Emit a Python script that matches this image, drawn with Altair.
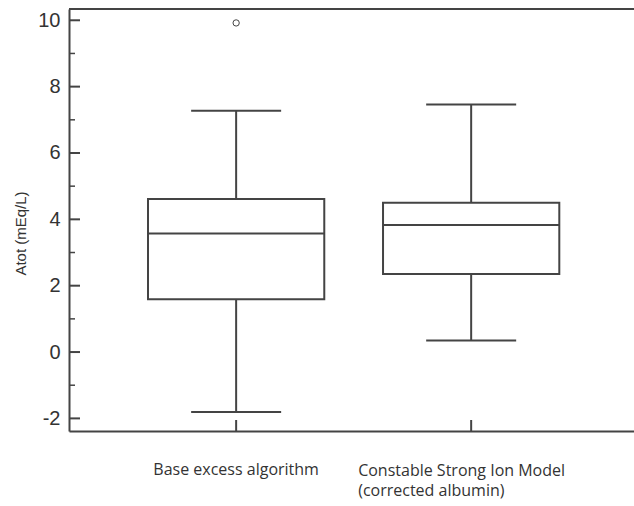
import altair as alt
import pandas as pd

# Summary statistics for each method (Atot, mEq/L)
GROUPS = ["Base excess algorithm", "Constable Strong Ion Model"]
WHISKER_LOW = [-1.81, 0.35]
Q1 = [1.59, 2.35]
MEDIAN = [3.57, 3.83]
Q3 = [4.61, 4.50]
WHISKER_HIGH = [7.27, 7.46]

OUTLIER_GROUP = ["Base excess algorithm"]
OUTLIER_VALUE = [9.92]

# Category captions shown under the x axis
CAPTION_1 = ["Base excess algorithm"]
CAPTION_2 = ["Constable Strong Ion Model\n(corrected albumin)"]

# Y-axis tick values
MAJOR_TICKS = [-2, 0, 2, 4, 6, 8, 10]
MINOR_TICKS = [-1, 1, 3, 5, 7, 9]

W, H = 565, 422
INK = "#444444"
TEXT = "#333333"

stats = pd.DataFrame({
    "group": GROUPS, "lo": WHISKER_LOW, "q1": Q1, "med": MEDIAN,
    "q3": Q3, "hi": WHISKER_HIGH,
})
outliers = pd.DataFrame({"group": OUTLIER_GROUP, "value": OUTLIER_VALUE})
major = pd.DataFrame({"v": MAJOR_TICKS})
minor = pd.DataFrame({"v": MINOR_TICKS})
cap1 = pd.DataFrame({"group": [GROUPS[0]], "label": CAPTION_1})
cap2 = pd.DataFrame({"group": [GROUPS[1]], "label": CAPTION_2})
frame_top = pd.DataFrame({"k": [0]})

x_scale = alt.Scale(domain=GROUPS, paddingInner=0.25, paddingOuter=0.327, align=0.514)
x_axis = alt.Axis(labels=False, ticks=False, domainWidth=2, domainColor=INK,
                  title=None, grid=False)
y_scale = alt.Scale(domain=[-2.38, 10.34], nice=False, zero=False)
y_axis = alt.Axis(values=MAJOR_TICKS, ticks=False, grid=False, domainWidth=2,
                  domainColor=INK, labelFont="Liberation Sans", labelFontSize=20,
                  labelColor=TEXT, labelPadding=9, labelExpr="'' + datum.value",
                  title="Atot (mEq/L)",
                  titleFont="Liberation Sans", titleFontSize=15,
                  titleFontWeight="normal", titleColor=TEXT, titleX=-49, titleY=224,
                  titleBaseline="middle")

X = lambda: alt.X("group:N", scale=x_scale, axis=x_axis)
Y = lambda f: alt.Y(f, type="quantitative", scale=y_scale, axis=y_axis)

base = alt.Chart(stats)

whiskers = base.mark_rule(color=INK, strokeWidth=2).encode(x=X(), y=Y("lo"), y2="hi")
caps_lo = base.mark_tick(color=INK, size=90, thickness=2, opacity=1).encode(
    x=X(), y=Y("lo"))
caps_hi = base.mark_tick(color=INK, size=90, thickness=2, opacity=1).encode(
    x=X(), y=Y("hi"))
boxes = base.mark_bar(fill="white", stroke=INK, strokeWidth=2, opacity=1).encode(
    x=X(), y=Y("q1"), y2="q3")
medians = base.mark_tick(color=INK, size=176, thickness=2, opacity=1).encode(
    x=X(), y=Y("med"))

points = alt.Chart(outliers).mark_point(
    shape="circle", size=40, filled=False, color=INK, strokeWidth=1, opacity=1
).encode(x=X(), y=Y("value"))

# Inward-pointing tick marks on the y axis
major_ticks = alt.Chart(major).mark_rule(color=INK, strokeWidth=2).encode(
    y=Y("v"), x=alt.value(0), x2=alt.value(11))
minor_ticks = alt.Chart(minor).mark_rule(color=INK, strokeWidth=1.5).encode(
    y=Y("v"), x=alt.value(0), x2=alt.value(6))

# Inward-pointing tick marks on the x axis
x_ticks = alt.Chart(stats).mark_rule(color=INK, strokeWidth=2).encode(
    x=X(), y=alt.value(H), y2=alt.value(H - 11))

top_line = alt.Chart(frame_top).mark_rule(color=INK, strokeWidth=2).encode(
    x=alt.value(0), x2=alt.value(W), y=alt.value(0))

caption1 = alt.Chart(cap1).mark_text(
    font="Open Sans", fontSize=16, color=TEXT, align="center", baseline="alphabetic"
).encode(x=X(), y=alt.value(H + 44), text="label:N")
caption2 = alt.Chart(cap2).mark_text(
    font="Open Sans", fontSize=16, color=TEXT, align="left", baseline="alphabetic",
    dx=-113, lineBreak="\n", lineHeight=20
).encode(x=X(), y=alt.value(H + 45), text="label:N")

chart = alt.layer(
    whiskers, caps_lo, caps_hi, boxes, medians, points,
    major_ticks, minor_ticks, x_ticks, top_line, caption1, caption2
).properties(
    width=W, height=H,
    autosize=alt.AutoSizeParams(type="none"),
    padding={"left": 69, "top": 9, "right": 0, "bottom": 75},
).configure_view(stroke=None).configure(background="white")

chart.save("out.html", embed_options={"renderer": "svg", "actions": False})
